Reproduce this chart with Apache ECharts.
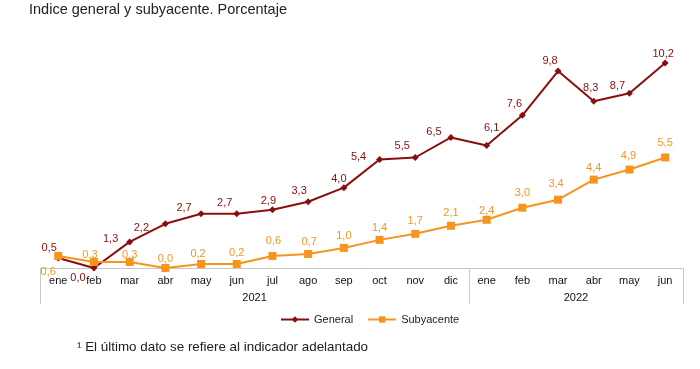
<!DOCTYPE html>
<html><head><meta charset="utf-8">
<script src="https://cdn.jsdelivr.net/npm/echarts@6/dist/echarts.min.js"></script>
<style>html,body{margin:0;padding:0;background:#fff}#c{width:700px;height:369px}</style>
</head><body><div id="c"></div>
<script>
const months = ['ene','feb','mar','abr','may','jun','jul','ago','sep','oct','nov','dic','ene','feb','mar','abr','may','jun'];
const years = ['2021','2022'];
const general = [0.5,0.0,1.3,2.2,2.7,2.7,2.9,3.3,4.0,5.4,5.5,6.5,6.1,7.6,9.8,8.3,8.7,10.2];
const subyacente = [0.6,0.3,0.3,0.0,0.2,0.2,0.6,0.7,1.0,1.4,1.7,2.1,2.4,3.0,3.4,4.4,4.9,5.5];

// label offsets (style only)
const genOff = [[-9,1],[-16,21],[-19,8],[-24,15],[-17,5],[-12,0],[-4,2],[-9,0],[-5,2],[-21,8],[-13,-1],[-17,6],[5,-6],[-8,0],[-8,1],[-3,-2],[-12,4],[-2,2]];
const subOff = [[-10,28],[-4,4],[0,4],[0,2],[-3,1],[0,0],[1,-3],[1,0],[0,0],[0,0],[0,-1],[0,-1],[0,3],[0,-3],[-2,-4],[0,0],[-1,-2],[0,-3]];

const fmt = v => v.toFixed(1).replace('.', ',');
const FONT = '"Liberation Sans", Arial, sans-serif';
const RED = '#8B0E0E', ORANGE = '#F7941D';

const chart = echarts.init(document.getElementById('c'));
chart.setOption({
  animation: false,
  textStyle: {fontFamily: FONT},
  title: [
    {text: 'Indice general y subyacente. Porcentaje', left: 29, top: 2, padding: 0,
     textStyle: {fontSize: 14.5, fontWeight: 'normal', color: '#222', fontFamily: FONT}},
    {text: '¹ El último dato se refiere al indicador adelantado', left: 77, top: 341, padding: 0,
     textStyle: {fontSize: 13.4, fontWeight: 'normal', color: '#222', fontFamily: FONT}}
  ],
  legend: {
    top: 309, left: 275, itemWidth: 28, itemHeight: 8, itemGap: 14,
    textStyle: {fontSize: 11, color: '#222', fontFamily: FONT},
    data: ['General', 'Subyacente']
  },
  grid: {left: 40.4, right: 17, top: 47, bottom: 101},
  xAxis: [
    {type: 'category', data: months, boundaryGap: true,
     axisLine: {lineStyle: {color: '#c8c8c8', width: 1}},
     axisTick: {interval: 0, length: 19, lineStyle: {color: '#c8c8c8'}},
     axisLabel: {interval: 0, margin: 7, fontSize: 11, color: '#111', fontFamily: FONT}},
    {type: 'value', min: 0, max: 18, position: 'bottom', offset: 0,
     axisLine: {show: false}, splitLine: {show: false},
     axisTick: {show: true, customValues: [0, 12, 18], length: 36, lineStyle: {color: '#c8c8c8'}},
     axisLabel: {customValues: [6, 15], margin: 24, fontSize: 11, color: '#111', fontFamily: FONT,
       formatter: v => v < 12 ? years[0] : years[1]}}
  ],
  yAxis: {type: 'value', min: 0, max: 11, show: false, splitLine: {show: false}},
  series: [
    {name: 'General', type: 'line', xAxisIndex: 0,
     data: general.map((v, i) => ({value: v, label: {offset: genOff[i]}})),
     symbol: 'diamond', symbolSize: 7, lineStyle: {color: RED, width: 2}, itemStyle: {color: RED},
     label: {show: true, position: 'top', distance: 2, fontSize: 11, color: RED, fontFamily: FONT,
       formatter: p => fmt(p.value)}},
    {name: 'Subyacente', type: 'line', xAxisIndex: 0,
     data: subyacente.map((v, i) => ({value: v, label: {offset: subOff[i]}})),
     symbol: 'rect', symbolSize: 8, lineStyle: {color: ORANGE, width: 2}, itemStyle: {color: ORANGE},
     label: {show: true, position: 'top', distance: 2, fontSize: 11, color: ORANGE, fontFamily: FONT,
       formatter: p => fmt(p.value)}}
  ]
});
</script></body></html>
